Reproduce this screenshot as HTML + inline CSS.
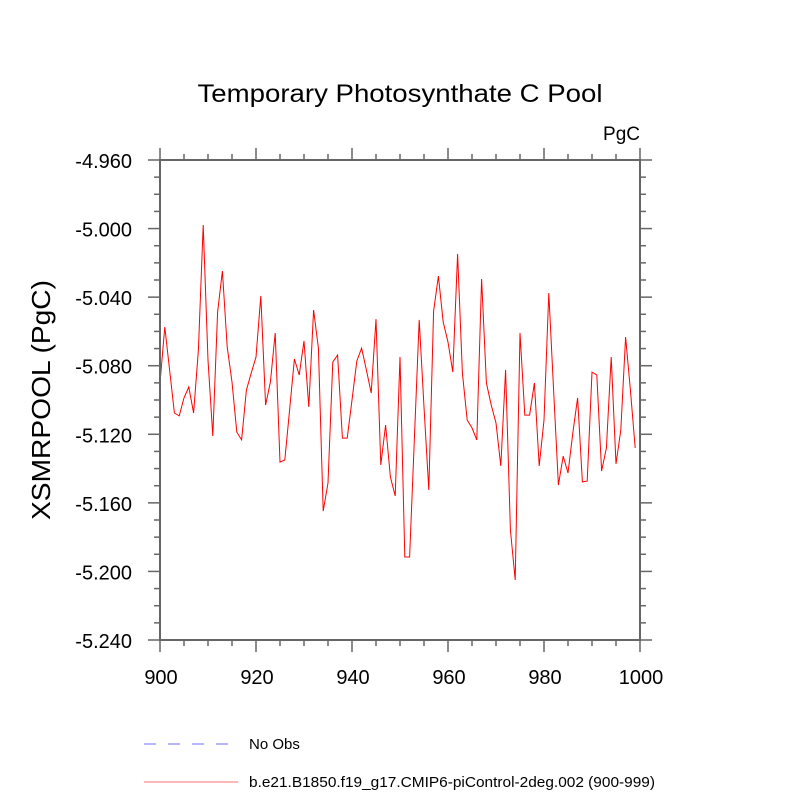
<!DOCTYPE html>
<html><head><meta charset="utf-8"><style>
html,body{margin:0;padding:0;background:#fff;}
svg{display:block;font-family:"Liberation Sans",sans-serif;}
</style></head><body>
<svg id="chart" width="800" height="800" viewBox="0 0 800 800">
<text x="400" y="102" text-anchor="middle" font-size="25" textLength="405" lengthAdjust="spacingAndGlyphs">Temporary Photosynthate C Pool</text>
<text x="640" y="140" text-anchor="end" font-size="19">PgC</text>
<text transform="translate(50,400) rotate(-90)" text-anchor="middle" font-size="26" textLength="240" lengthAdjust="spacingAndGlyphs">XSMRPOOL  (PgC)</text>
<g id="axes"></g>
<polyline id="series" fill="none" stroke="#ff0000" stroke-width="1"></polyline>
<rect x="160" y="160" width="480" height="480" fill="none" stroke="#666" stroke-width="2"/>
<g>
<line x1="144" y1="744" x2="238" y2="744" stroke="#6e6eff" stroke-width="1" stroke-dasharray="12,12"/>
<text x="249" y="749" font-size="15">No Obs</text>
<line x1="144" y1="782" x2="238" y2="782" stroke="#ff7070" stroke-width="1"/>
<text x="249" y="787" font-size="15" textLength="406" lengthAdjust="spacingAndGlyphs">b.e21.B1850.f19_g17.CMIP6-piControl-2deg.002 (900-999)</text>
</g>
</svg>
<script>
const years = Array.from({length:100},(_,i)=>900+i);
const pyVals = [383,327,370,413,416,398,387,413,350,225,360,436,312,271,347,382,432,440,390,373,357,296,405,382,333,462,460,410,359,375,341,407,310,348,511,483,362,355,438,438,400,361,348,370,393,319,465,425,477,496,357,557,557,438,320,407,490,311,276,322,342,372,254,373,420,428,440,279,383,405,423,466,370,530,580,333,415,415,383,466,420,293,390,485,456,473,433,398,482,481,372,375,471,448,357,464,430,337,390,448];
const values = pyVals.map(p => +(-4.96 - (p-160)/1714.2857).toFixed(4));
const yTicks = [-4.96,-5.0,-5.04,-5.08,-5.12,-5.16,-5.2,-5.24];
const yTickLabels = ["-4.960","-5.000","-5.040","-5.080","-5.120","-5.160","-5.200","-5.240"];
const xTicks = [900,920,940,960,980,1000];
const xTickLabels = ["900","920","940","960","980","1000"];
const X0=160,X1=640,Y0=160,Y1=640,XMIN=900,XMAX=1000,YMAX=-4.96,YMIN=-5.24;
function sx(v){return X0+(v-XMIN)/(XMAX-XMIN)*(X1-X0);}
function sy(v){return Y0+(YMAX-v)/(YMAX-YMIN)*(Y1-Y0);}
const NS="http://www.w3.org/2000/svg";
const g=document.getElementById('axes');
function ln(x1,y1,x2,y2,name){const l=document.createElementNS(NS,'line');l.setAttribute('x1',x1);l.setAttribute('y1',y1);l.setAttribute('x2',x2);l.setAttribute('y2',y2);l.setAttribute('stroke','#666');l.setAttribute('stroke-width','1.5');


g.appendChild(l);}
function tx(x,y,s,anchor,name){const t=document.createElementNS(NS,'text');t.setAttribute('x',x);t.setAttribute('y',y);t.setAttribute('text-anchor',anchor);t.setAttribute('font-size','20');t.textContent=s;


g.appendChild(t);}
yTicks.forEach((v,i)=>{const y=sy(v);ln(X0-12,y,X0,y,'y-major-tick');ln(X1,y,X1+12,y,'y-major-tick-right');tx(X0-28,y+8,yTickLabels[i],'end','y-tick-label');});
for(let k=0;k<28;k++){if(k%4===0)continue;const y=sy(YMAX-k*0.01);ln(X0-6,y,X0,y,'y-minor-tick');ln(X1,y,X1+6,y,'y-minor-tick-right');}
xTicks.forEach((v,i)=>{const x=sx(v);ln(x,Y1,x,Y1+12,'x-major-tick');ln(x,Y0-12,x,Y0,'x-major-tick-top');tx(x+1,Y1+44,xTickLabels[i],'middle','x-tick-label');});
for(let v=905;v<1000;v+=5){if(v%20===0)continue;const x=sx(v);ln(x,Y1,x,Y1+6,'x-minor-tick');ln(x,Y0-6,x,Y0,'x-minor-tick-top');}
document.getElementById('series').setAttribute('points',years.map((yr,i)=>sx(yr).toFixed(1)+','+sy(values[i]).toFixed(1)).join(' '));
</script>
</body></html>
